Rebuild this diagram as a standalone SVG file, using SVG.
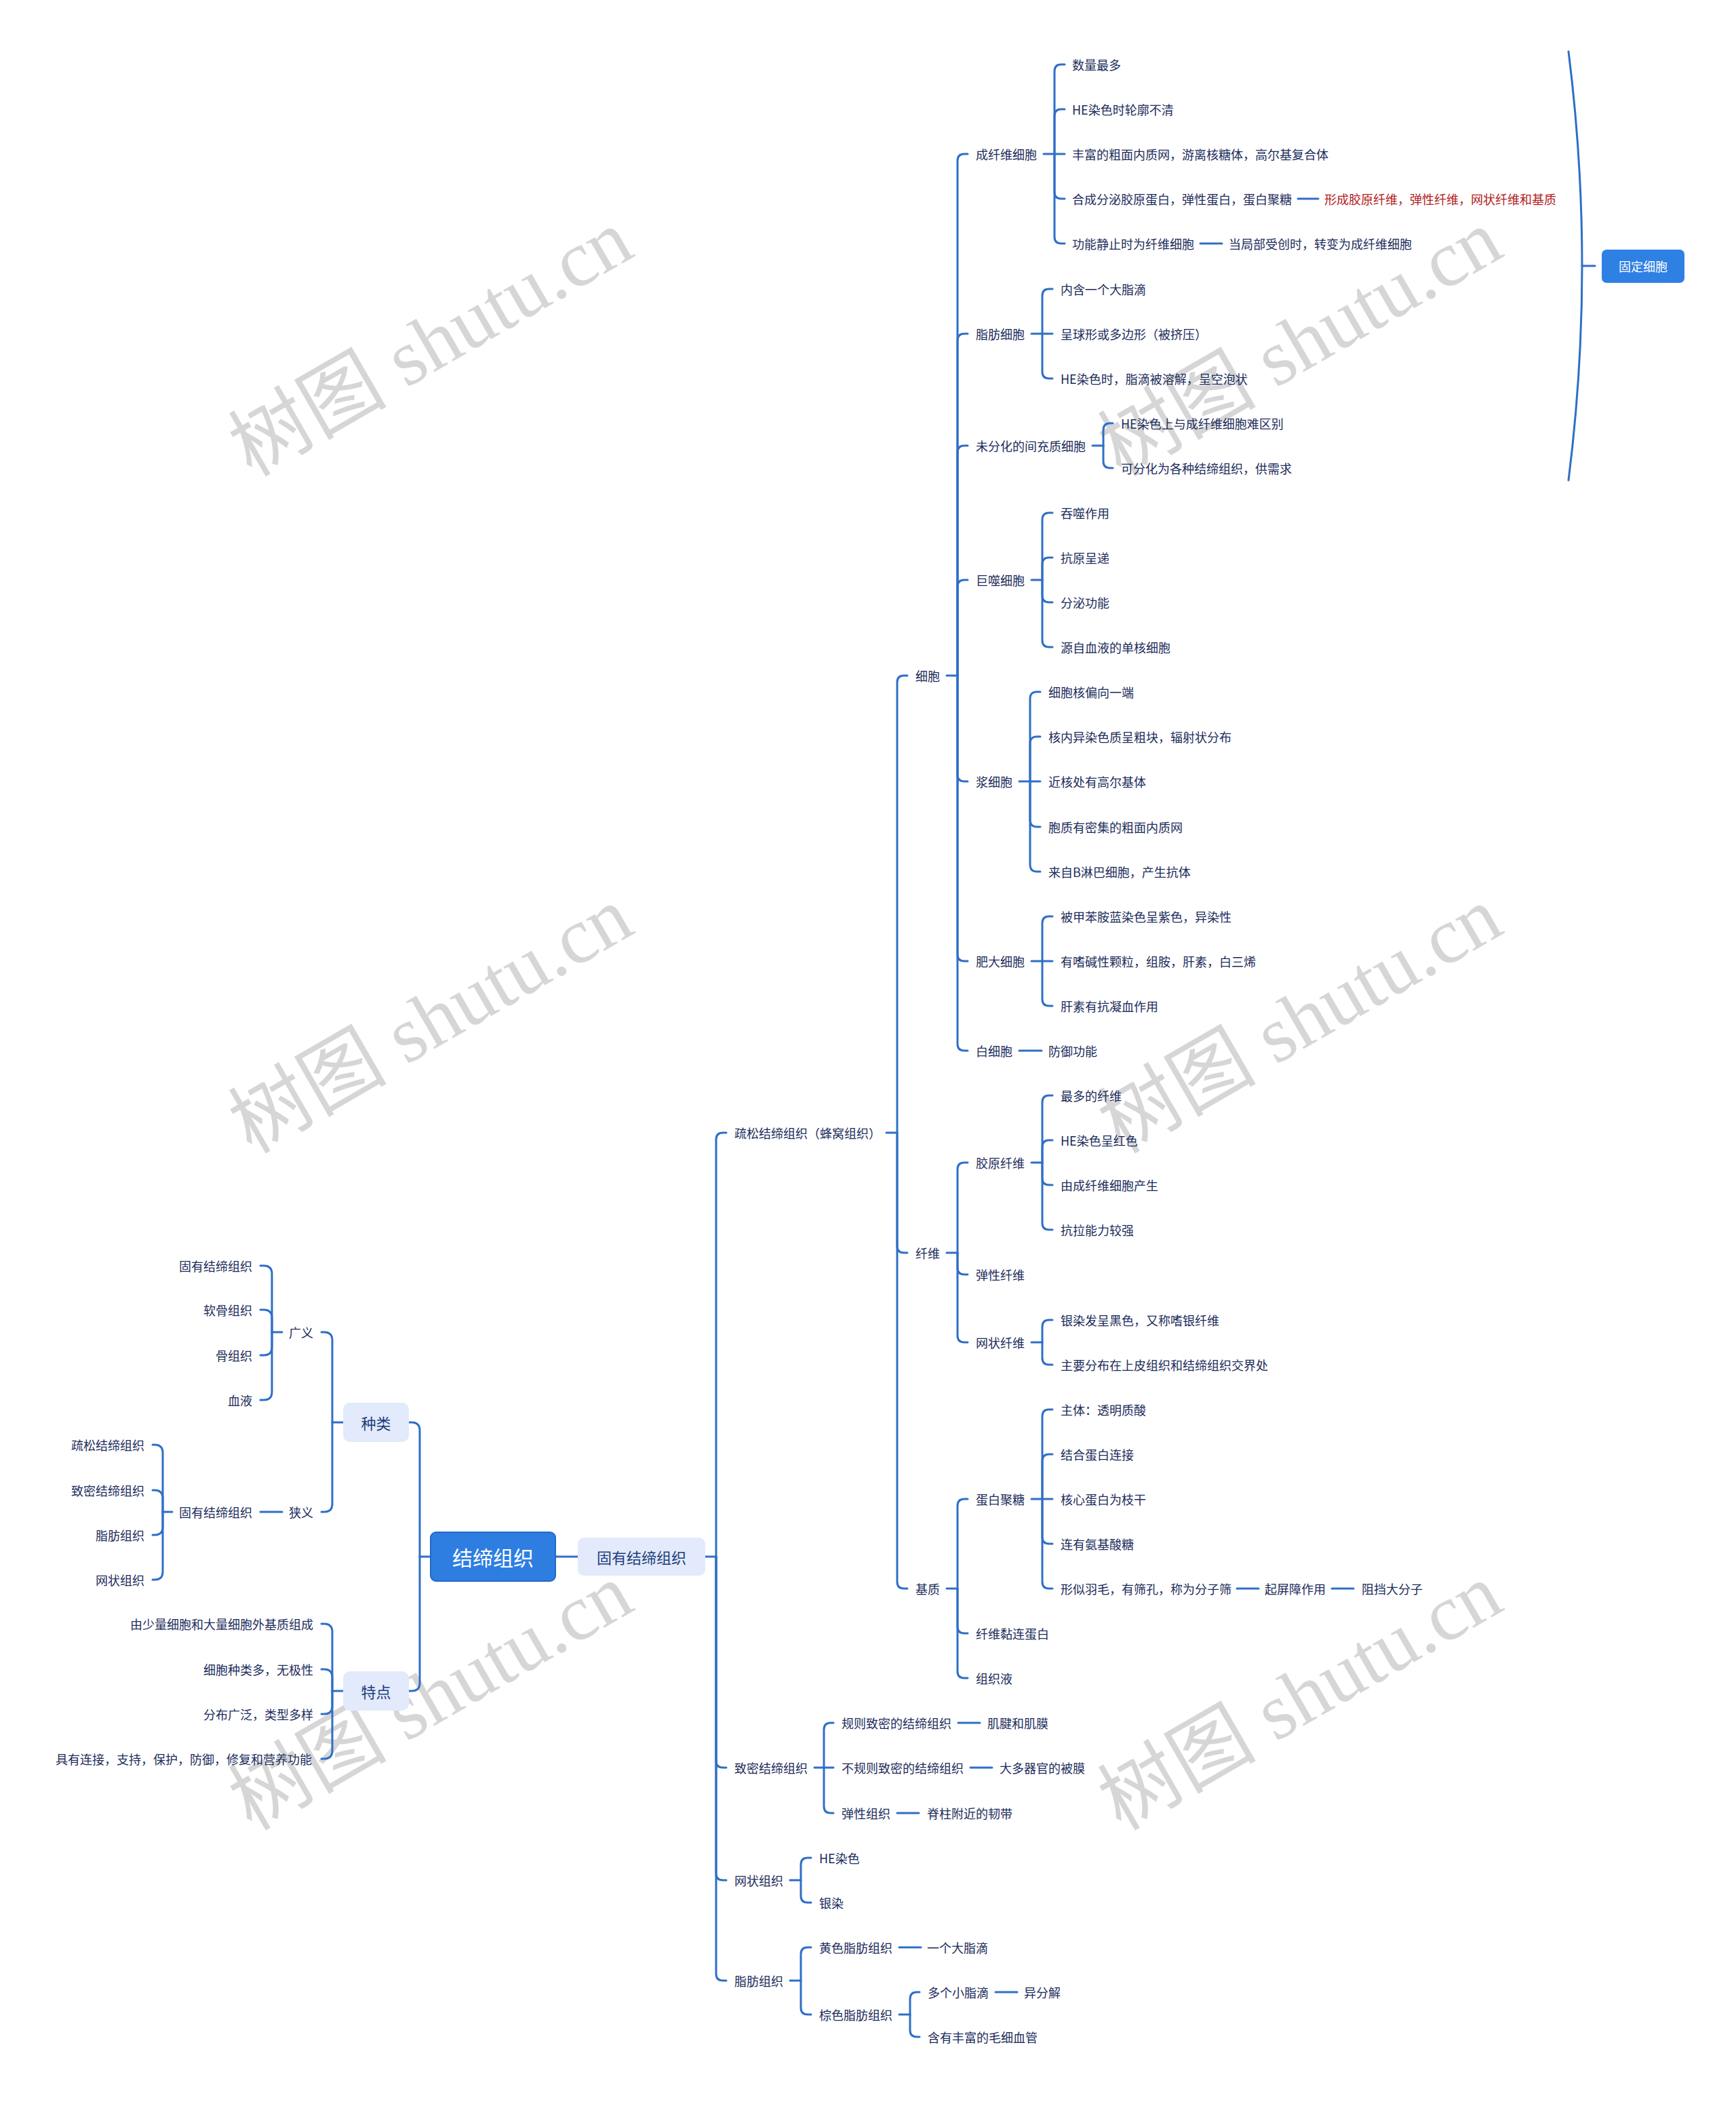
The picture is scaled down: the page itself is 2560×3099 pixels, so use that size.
<svg xmlns="http://www.w3.org/2000/svg" width="2560" height="3099" viewBox="0 0 2560 3099">
<style>
.t{font-family:"Noto Sans CJK SC","Noto Sans",sans-serif;font-size:18px;fill:#1c2c5b;dominant-baseline:central}
.tl{font-family:"Noto Sans CJK SC","Noto Sans",sans-serif;font-size:18px;fill:#1c2c5b;dominant-baseline:central;text-anchor:end}
.red{fill:#b0201c}
.c{fill:none;stroke:#2f6fc6;stroke-width:3;stroke-linecap:round;stroke-linejoin:round}
.wm{font-family:"Liberation Serif","Noto Sans CJK SC",serif;font-size:117px;fill:#d6d6d6;text-anchor:middle}
.bl{fill:#e2eafb}
.bt{font-family:"Noto Sans CJK SC","Noto Sans",sans-serif;font-size:22px;fill:#1c3d7a;dominant-baseline:central;text-anchor:middle}
.wt{font-family:"Noto Sans CJK SC","Noto Sans",sans-serif;fill:#ffffff;dominant-baseline:central;text-anchor:middle}
</style>
<rect width="2560" height="3099" fill="#ffffff"/>
<g id="watermarks">
<text class="wm" x="655" y="540" transform="rotate(-30 655 540)">树图 shutu.cn</text>
<text class="wm" x="1937" y="540" transform="rotate(-30 1937 540)">树图 shutu.cn</text>
<text class="wm" x="655" y="1538" transform="rotate(-30 655 1538)">树图 shutu.cn</text>
<text class="wm" x="1937" y="1538" transform="rotate(-30 1937 1538)">树图 shutu.cn</text>
<text class="wm" x="655" y="2536" transform="rotate(-30 655 2536)">树图 shutu.cn</text>
<text class="wm" x="1937" y="2536" transform="rotate(-30 1937 2536)">树图 shutu.cn</text>
</g>
<g id="connectors" class="c">
<path d="M819,2295 H852"/>
<path d="M1040,2295 H1056"/>
<path d="M1056,2295 V1680 Q1056,1670 1066,1670 H1071"/>
<path d="M1056,2295 V2596 Q1056,2606 1066,2606 H1071"/>
<path d="M1056,2295 V2762 Q1056,2772 1066,2772 H1071"/>
<path d="M1056,2295 V2910 Q1056,2920 1066,2920 H1071"/>
<path d="M1307,1670 H1323"/>
<path d="M1323,1670 V1006 Q1323,996 1333,996 H1338"/>
<path d="M1323,1670 V1837 Q1323,1847 1333,1847 H1338"/>
<path d="M1323,1670 V2332 Q1323,2342 1333,2342 H1338"/>
<path d="M1396,996 H1412"/>
<path d="M1412,996 V237 Q1412,227 1422,227 H1427"/>
<path d="M1412,996 V502 Q1412,492 1422,492 H1427"/>
<path d="M1412,996 V667 Q1412,657 1422,657 H1427"/>
<path d="M1412,996 V865 Q1412,855 1422,855 H1427"/>
<path d="M1412,996 V1142 Q1412,1152 1422,1152 H1427"/>
<path d="M1412,996 V1407 Q1412,1417 1422,1417 H1427"/>
<path d="M1412,996 V1539 Q1412,1549 1422,1549 H1427"/>
<path d="M1396,1847 H1412"/>
<path d="M1412,1847 V1724 Q1412,1714 1422,1714 H1427"/>
<path d="M1412,1847 V1869 Q1412,1879 1422,1879 H1427"/>
<path d="M1412,1847 V1969 Q1412,1979 1422,1979 H1427"/>
<path d="M1396,2342 H1412"/>
<path d="M1412,2342 V2220 Q1412,2210 1422,2210 H1427"/>
<path d="M1412,2342 V2398 Q1412,2408 1422,2408 H1427"/>
<path d="M1412,2342 V2464 Q1412,2474 1422,2474 H1427"/>
<path d="M1539,227 H1570"/>
<path d="M1555,227 V105 Q1555,95 1565,95 H1570"/>
<path d="M1555,227 V171 Q1555,161 1565,161 H1570"/>
<path d="M1555,227 V283 Q1555,293 1565,293 H1570"/>
<path d="M1555,227 V349 Q1555,359 1565,359 H1570"/>
<path d="M1521,492 H1552"/>
<path d="M1537,492 V436 Q1537,426 1547,426 H1552"/>
<path d="M1537,492 V548 Q1537,558 1547,558 H1552"/>
<path d="M1611,657 H1627"/>
<path d="M1627,657 V634 Q1627,624 1637,624 H1641"/>
<path d="M1627,657 V680 Q1627,690 1637,690 H1641"/>
<path d="M1521,855 H1537"/>
<path d="M1537,855 V766 Q1537,756 1547,756 H1552"/>
<path d="M1537,855 V832 Q1537,822 1547,822 H1552"/>
<path d="M1537,855 V878 Q1537,888 1547,888 H1552"/>
<path d="M1537,855 V944 Q1537,954 1547,954 H1552"/>
<path d="M1503,1152 H1534"/>
<path d="M1519,1152 V1030 Q1519,1020 1529,1020 H1534"/>
<path d="M1519,1152 V1096 Q1519,1086 1529,1086 H1534"/>
<path d="M1519,1152 V1209 Q1519,1219 1529,1219 H1534"/>
<path d="M1519,1152 V1275 Q1519,1285 1529,1285 H1534"/>
<path d="M1521,1417 H1552"/>
<path d="M1537,1417 V1361 Q1537,1351 1547,1351 H1552"/>
<path d="M1537,1417 V1473 Q1537,1483 1547,1483 H1552"/>
<path d="M1503,1549 H1536"/>
<path d="M1521,1714 H1537"/>
<path d="M1537,1714 V1625 Q1537,1615 1547,1615 H1552"/>
<path d="M1537,1714 V1691 Q1537,1681 1547,1681 H1552"/>
<path d="M1537,1714 V1737 Q1537,1747 1547,1747 H1552"/>
<path d="M1537,1714 V1803 Q1537,1813 1547,1813 H1552"/>
<path d="M1521,1979 H1537"/>
<path d="M1537,1979 V1956 Q1537,1946 1547,1946 H1552"/>
<path d="M1537,1979 V2002 Q1537,2012 1547,2012 H1552"/>
<path d="M1521,2210 H1552"/>
<path d="M1537,2210 V2088 Q1537,2078 1547,2078 H1552"/>
<path d="M1537,2210 V2154 Q1537,2144 1547,2144 H1552"/>
<path d="M1537,2210 V2266 Q1537,2276 1547,2276 H1552"/>
<path d="M1537,2210 V2332 Q1537,2342 1547,2342 H1552"/>
<path d="M1914,293 H1944"/>
<path d="M1770,359 H1802"/>
<path d="M1824,2342 H1856"/>
<path d="M1964,2342 H1996"/>
<path d="M1201,2606 H1229"/>
<path d="M1215,2606 V2550 Q1215,2540 1225,2540 H1229"/>
<path d="M1215,2606 V2663 Q1215,2673 1225,2673 H1229"/>
<path d="M1413,2540 H1445"/>
<path d="M1431,2606 H1463"/>
<path d="M1323,2673 H1355"/>
<path d="M1165,2772 H1181"/>
<path d="M1181,2772 V2749 Q1181,2739 1191,2739 H1196"/>
<path d="M1181,2772 V2795 Q1181,2805 1191,2805 H1196"/>
<path d="M1165,2920 H1181"/>
<path d="M1181,2920 V2881 Q1181,2871 1191,2871 H1196"/>
<path d="M1181,2920 V2960 Q1181,2970 1191,2970 H1196"/>
<path d="M1326,2871 H1358"/>
<path d="M1326,2970 H1342"/>
<path d="M1342,2970 V2947 Q1342,2937 1352,2937 H1356"/>
<path d="M1342,2970 V2993 Q1342,3003 1352,3003 H1356"/>
<path d="M1468,2937 H1500"/>
<path d="M2313,76 Q2353,392 2313,708"/>
<path d="M2333,392 H2352"/>
<path d="M635,2295 H619"/>
<path d="M619,2295 V2109 Q619,2097 607,2097 H603"/>
<path d="M619,2295 V2481 Q619,2493 607,2493 H603"/>
<path d="M506,2097 H490"/>
<path d="M490,2097 V1976 Q490,1964 478,1964 H474"/>
<path d="M490,2097 V2217 Q490,2229 478,2229 H474"/>
<path d="M506,2493 H490"/>
<path d="M490,2493 V2406 Q490,2394 478,2394 H474"/>
<path d="M490,2493 V2473 Q490,2461 478,2461 H474"/>
<path d="M490,2493 V2515 Q490,2527 478,2527 H474"/>
<path d="M490,2493 V2581 Q490,2593 478,2593 H474"/>
<path d="M416,1964 H401"/>
<path d="M401,1964 V1878 Q401,1866 389,1866 H384"/>
<path d="M401,1964 V1943 Q401,1931 389,1931 H384"/>
<path d="M401,1964 V1986 Q401,1998 389,1998 H384"/>
<path d="M401,1964 V2052 Q401,2064 389,2064 H384"/>
<path d="M416,2229 H384"/>
<path d="M254,2229 H240"/>
<path d="M240,2229 V2142 Q240,2130 228,2130 H225"/>
<path d="M240,2229 V2209 Q240,2197 228,2197 H225"/>
<path d="M240,2229 V2251 Q240,2263 228,2263 H225"/>
<path d="M240,2229 V2317 Q240,2329 228,2329 H225"/>
</g>
<g id="root"><rect x="635" y="2259" width="184" height="72" rx="8" fill="#2e7ee2" stroke="#2469c6" stroke-width="2"/><text class="wt" x="727" y="2295" font-size="30">结缔组织</text></g>
<g id="n-guyou"><rect class="bl" x="852" y="2267" width="188" height="56" rx="9"/><text class="bt" x="946" y="2295">固有结缔组织</text></g>
<g id="n-zhonglei"><rect class="bl" x="506" y="2068" width="97" height="58" rx="10"/><text class="bt" x="554.5" y="2097">种类</text></g>
<g id="n-tedian"><rect class="bl" x="506" y="2464" width="97" height="58" rx="10"/><text class="bt" x="554.5" y="2493">特点</text></g>
<g id="n-guding"><rect x="2362" y="368" width="122" height="49" rx="7" fill="#2f80e3"/><text class="wt" x="2423" y="392" font-size="18">固定细胞</text></g>
<g id="left-nodes">
<g id="n-guangyi"><text class="tl" x="462" y="1964">广义</text></g>
<g id="n-xiayi"><text class="tl" x="462" y="2229">狭义</text></g>
<g id="n-gy1"><text class="tl" x="372" y="1866">固有结缔组织</text></g>
<g id="n-gy2"><text class="tl" x="372" y="1931">软骨组织</text></g>
<g id="n-gy3"><text class="tl" x="372" y="1998">骨组织</text></g>
<g id="n-gy4"><text class="tl" x="372" y="2064">血液</text></g>
<g id="n-xy1"><text class="tl" x="372" y="2229">固有结缔组织</text></g>
<g id="n-xy1a"><text class="tl" x="213" y="2130">疏松结缔组织</text></g>
<g id="n-xy1b"><text class="tl" x="213" y="2197">致密结缔组织</text></g>
<g id="n-xy1c"><text class="tl" x="213" y="2263">脂肪组织</text></g>
<g id="n-xy1d"><text class="tl" x="213" y="2329">网状组织</text></g>
<g id="n-td1"><text class="tl" x="462" y="2394">由少量细胞和大量细胞外基质组成</text></g>
<g id="n-td2"><text class="tl" x="462" y="2461">细胞种类多，无极性</text></g>
<g id="n-td3"><text class="tl" x="462" y="2527">分布广泛，类型多样</text></g>
<g id="n-td4"><text class="tl" x="460" y="2593">具有连接，支持，保护，防御，修复和营养功能</text></g>
</g>
<g id="right-nodes">
<g id="n-shusong"><text class="t" x="1083" y="1670">疏松结缔组织（蜂窝组织）</text></g>
<g id="n-zhimi"><text class="t" x="1083" y="2606">致密结缔组织</text></g>
<g id="n-wangzhuang"><text class="t" x="1083" y="2772">网状组织</text></g>
<g id="n-zhifang"><text class="t" x="1083" y="2920">脂肪组织</text></g>
<g id="n-xibao"><text class="t" x="1350" y="996">细胞</text></g>
<g id="n-xianwei"><text class="t" x="1350" y="1847">纤维</text></g>
<g id="n-jizhi"><text class="t" x="1350" y="2342">基质</text></g>
<g id="n-cxw"><text class="t" x="1439" y="227">成纤维细胞</text></g>
<g id="n-zfxb"><text class="t" x="1439" y="492">脂肪细胞</text></g>
<g id="n-wfh"><text class="t" x="1439" y="657">未分化的间充质细胞</text></g>
<g id="n-jsxb"><text class="t" x="1439" y="855">巨噬细胞</text></g>
<g id="n-jxb"><text class="t" x="1439" y="1152">浆细胞</text></g>
<g id="n-fdxb"><text class="t" x="1439" y="1417">肥大细胞</text></g>
<g id="n-bxb"><text class="t" x="1439" y="1549">白细胞</text></g>
<g id="n-jyxw"><text class="t" x="1439" y="1714">胶原纤维</text></g>
<g id="n-txxw"><text class="t" x="1439" y="1879">弹性纤维</text></g>
<g id="n-wzxw"><text class="t" x="1439" y="1979">网状纤维</text></g>
<g id="n-dbjt"><text class="t" x="1439" y="2210">蛋白聚糖</text></g>
<g id="n-xwnl"><text class="t" x="1439" y="2408">纤维黏连蛋白</text></g>
<g id="n-zzy"><text class="t" x="1439" y="2474">组织液</text></g>
<g id="r0"><text class="t" x="1581" y="95">数量最多</text></g>
<g id="r1"><text class="t" x="1581" y="161">HE染色时轮廓不清</text></g>
<g id="r2"><text class="t" x="1581" y="227">丰富的粗面内质网，游离核糖体，高尔基复合体</text></g>
<g id="r3"><text class="t" x="1581" y="293">合成分泌胶原蛋白，弹性蛋白，蛋白聚糖</text></g>
<g id="r3b"><text class="t red" x="1953" y="293">形成胶原纤维，弹性纤维，网状纤维和基质</text></g>
<g id="r4"><text class="t" x="1581" y="359">功能静止时为纤维细胞</text></g>
<g id="r4b"><text class="t" x="1812" y="359">当局部受创时，转变为成纤维细胞</text></g>
<g id="r5"><text class="t" x="1564" y="426">内含一个大脂滴</text></g>
<g id="r6"><text class="t" x="1564" y="492">呈球形或多边形（被挤压）</text></g>
<g id="r7"><text class="t" x="1564" y="558">HE染色时，脂滴被溶解，呈空泡状</text></g>
<g id="r8"><text class="t" x="1653" y="624">HE染色上与成纤维细胞难区别</text></g>
<g id="r9"><text class="t" x="1653" y="690">可分化为各种结缔组织，供需求</text></g>
<g id="r10"><text class="t" x="1564" y="756">吞噬作用</text></g>
<g id="r11"><text class="t" x="1564" y="822">抗原呈递</text></g>
<g id="r12"><text class="t" x="1564" y="888">分泌功能</text></g>
<g id="r13"><text class="t" x="1564" y="954">源自血液的单核细胞</text></g>
<g id="r14"><text class="t" x="1546" y="1020">细胞核偏向一端</text></g>
<g id="r15"><text class="t" x="1546" y="1086">核内异染色质呈粗块，辐射状分布</text></g>
<g id="r16"><text class="t" x="1546" y="1152">近核处有高尔基体</text></g>
<g id="r17"><text class="t" x="1546" y="1219">胞质有密集的粗面内质网</text></g>
<g id="r18"><text class="t" x="1546" y="1285">来自B淋巴细胞，产生抗体</text></g>
<g id="r19"><text class="t" x="1564" y="1351">被甲苯胺蓝染色呈紫色，异染性</text></g>
<g id="r20"><text class="t" x="1564" y="1417">有嗜碱性颗粒，组胺，肝素，白三烯</text></g>
<g id="r21"><text class="t" x="1564" y="1483">肝素有抗凝血作用</text></g>
<g id="r22"><text class="t" x="1546" y="1549">防御功能</text></g>
<g id="r23"><text class="t" x="1564" y="1615">最多的纤维</text></g>
<g id="r24"><text class="t" x="1564" y="1681">HE染色呈红色</text></g>
<g id="r25"><text class="t" x="1564" y="1747">由成纤维细胞产生</text></g>
<g id="r26"><text class="t" x="1564" y="1813">抗拉能力较强</text></g>
<g id="r28"><text class="t" x="1564" y="1946">银染发呈黑色，又称嗜银纤维</text></g>
<g id="r29"><text class="t" x="1564" y="2012">主要分布在上皮组织和结缔组织交界处</text></g>
<g id="r30"><text class="t" x="1564" y="2078">主体：透明质酸</text></g>
<g id="r31"><text class="t" x="1564" y="2144">结合蛋白连接</text></g>
<g id="r32"><text class="t" x="1564" y="2210">核心蛋白为枝干</text></g>
<g id="r33"><text class="t" x="1564" y="2276">连有氨基酸糖</text></g>
<g id="r34"><text class="t" x="1564" y="2342">形似羽毛，有筛孔，称为分子筛</text></g>
<g id="r34b"><text class="t" x="1865" y="2342">起屏障作用</text></g>
<g id="r34c"><text class="t" x="2008" y="2342">阻挡大分子</text></g>
<g id="r37"><text class="t" x="1241" y="2540">规则致密的结缔组织</text></g>
<g id="r37b"><text class="t" x="1456" y="2540">肌腱和肌膜</text></g>
<g id="r38"><text class="t" x="1241" y="2606">不规则致密的结缔组织</text></g>
<g id="r38b"><text class="t" x="1474" y="2606">大多器官的被膜</text></g>
<g id="r39"><text class="t" x="1241" y="2673">弹性组织</text></g>
<g id="r39b"><text class="t" x="1367" y="2673">脊柱附近的韧带</text></g>
<g id="r40"><text class="t" x="1208" y="2739">HE染色</text></g>
<g id="r41"><text class="t" x="1208" y="2805">银染</text></g>
<g id="r42"><text class="t" x="1208" y="2871">黄色脂肪组织</text></g>
<g id="r42b"><text class="t" x="1367" y="2871">一个大脂滴</text></g>
<g id="n-zongse"><text class="t" x="1208" y="2970">棕色脂肪组织</text></g>
<g id="r43"><text class="t" x="1368" y="2937">多个小脂滴</text></g>
<g id="r43b"><text class="t" x="1510" y="2937">异分解</text></g>
<g id="r44"><text class="t" x="1368" y="3003">含有丰富的毛细血管</text></g>
</g>
</svg>
